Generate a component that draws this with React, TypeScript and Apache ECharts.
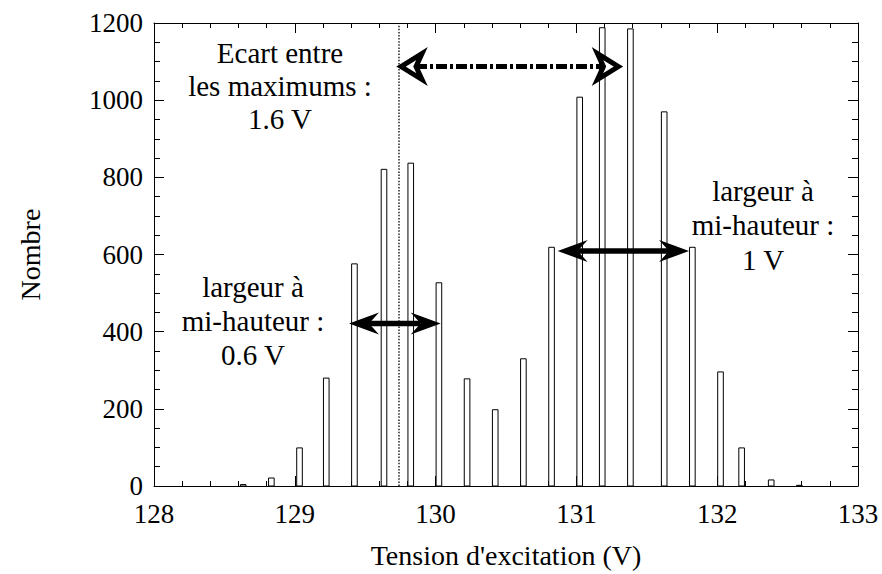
import React, { useEffect, useRef } from "react";
import * as echarts from "echarts";

// Histogram: bin left edges (V) and counts
const BIN_LEFT = [128.61, 128.81, 129.01, 129.2, 129.4, 129.61, 129.8, 130.0, 130.2, 130.4, 130.6, 130.8, 131.0, 131.16, 131.36, 131.6, 131.8, 132.0, 132.15, 132.36, 132.56];
const COUNTS = [5, 22, 100, 281, 577, 822, 838, 528, 279, 199, 331, 620, 1009, 1189, 1186, 971, 620, 297, 100, 17, 3];
const BIN_WIDTH = 0.047;

// Vertical dotted marker (V)
const MARKER_X = [129.74];
// Arrows: [x start, x end, y]
const GAP_ARROW = [[129.733, 131.32, 1087]];
const WIDTH_ARROWS = [
  [129.385, 130.036, 421],
  [130.867, 131.8, 609],
];

const X_MIN = 128;
const X_MAX = 133;
const Y_MIN = 0;
const Y_MAX = 1200;

const LABEL_GAP = ["Ecart entre", "les maximums :", "1.6 V"];
const LABEL_LEFT = ["largeur à", "mi-hauteur :", "0.6 V"];
const LABEL_RIGHT = ["largeur à", "mi-hauteur :", "1 V"];

const FONT = "Liberation Serif";

export default function App() {
  const ref = useRef<HTMLDivElement>(null);
  useEffect(() => {
    if (!ref.current) return;
    const chart = echarts.init(ref.current, null, { renderer: "svg" });

    const axisCommon = {
      type: "value",
      min: X_MIN,
      max: X_MAX,
      interval: 1,
      axisLine: { show: true, onZero: false, lineStyle: { color: "#000", width: 1 } },
      axisTick: { show: true, inside: true, length: 10, lineStyle: { color: "#000", width: 1 } },
      minorTick: { show: true, splitNumber: 5, length: 5, lineStyle: { color: "#000", width: 1 } },
      splitLine: { show: false },
      minorSplitLine: { show: false },
    };
    const yCommon = {
      type: "value",
      min: Y_MIN,
      max: Y_MAX,
      interval: 200,
      axisLine: { show: true, onZero: false, lineStyle: { color: "#000", width: 1 } },
      axisTick: { show: true, inside: true, length: 10, lineStyle: { color: "#000", width: 1 } },
      minorTick: { show: true, splitNumber: 4, length: 6, lineStyle: { color: "#000", width: 1 } },
      splitLine: { show: false },
      minorSplitLine: { show: false },
    };

    const barData = BIN_LEFT.map((x, i) => [x, COUNTS[i]]);
    const textBase = { fill: "#000", fontSize: 29, fontFamily: FONT, align: "center", verticalAlign: "middle" };

    const option = {
      animation: false,
      backgroundColor: "#fff",
      textStyle: { fontFamily: FONT },
      grid: { left: 154, right: 24, top: 23, bottom: 83, containLabel: false },
      xAxis: [
        {
          ...axisCommon,
          position: "bottom",
          axisLabel: {
            show: true,
            color: "#000",
            fontSize: 27,
            fontFamily: FONT,
            margin: 18,
            lineHeight: 20,
            formatter: (v: number) => String(v),
          },
          name: "Tension d'excitation (V)",
          nameLocation: "middle",
          nameGap: 55,
          nameTextStyle: { color: "#000", fontSize: 28, fontFamily: FONT },
        },
        {
          ...axisCommon,
          position: "top",
          axisLabel: { show: false },
        },
      ],
      yAxis: [
        {
          ...yCommon,
          position: "left",
          axisLabel: {
            show: true,
            color: "#000",
            fontSize: 27,
            fontFamily: FONT,
            margin: 11,
            lineHeight: 20,
            padding: [0, 0, 10, 0],
            formatter: (v: number) => String(v),
          },
          name: "Nombre",
          nameLocation: "middle",
          nameRotate: 90,
          nameGap: 110,
          nameTextStyle: { color: "#000", fontSize: 28, fontFamily: FONT },
        },
        {
          ...yCommon,
          position: "right",
          axisLabel: { show: false },
        },
      ],
      series: [
        {
          type: "custom",
          name: "bars",
          xAxisIndex: 0,
          yAxisIndex: 0,
          data: barData,
          encode: { x: 0, y: 1 },
          z: 2,
          renderItem: (params: any, api: any) => {
            const x = api.value(0);
            const h = api.value(1);
            const p0 = api.coord([x, 0]);
            const p1 = api.coord([x + BIN_WIDTH, h]);
            return {
              type: "rect",
              shape: {
                x: p0[0] + 0.5,
                y: p1[1] + 0.5,
                width: p1[0] - p0[0] - 1,
                height: p0[1] - p1[1] - 0.5,
              },
              style: { fill: "#fff", stroke: "#000", lineWidth: 1 },
            };
          },
        },
        {
          type: "custom",
          name: "marker",
          data: MARKER_X.map((x) => [x, Y_MIN, Y_MAX]),
          encode: { x: 0, y: [1, 2] },
          z: 3,
          renderItem: (params: any, api: any) => {
            const a = api.coord([api.value(0), api.value(1)]);
            const b = api.coord([api.value(0), api.value(2)]);
            return {
              type: "line",
              shape: { x1: a[0], y1: a[1], x2: b[0], y2: b[1] },
              style: { stroke: "#000", lineWidth: 1.3, lineDash: [1.5, 1.6] },
            };
          },
        },
        {
          type: "custom",
          name: "gapArrow",
          data: GAP_ARROW,
          encode: { x: [0, 1], y: 2 },
          z: 4,
          renderItem: (params: any, api: any) => {
            const a = api.coord([api.value(0), api.value(2)]);
            const b = api.coord([api.value(1), api.value(2)]);
            const y = a[1];
            const L = 21;
            const H = 26;
            const N = 15;
            const off = 3;
            const ax = a[0] + off;
            const bx = b[0] - off;
            const headStyle = { fill: "#fff", stroke: "#000", lineWidth: 5, lineJoin: "miter" };
            return {
              type: "group",
              children: [
                {
                  type: "line",
                  shape: { x1: ax + N, y1: y, x2: bx - N, y2: y },
                  style: { stroke: "#000", lineWidth: 5, lineDash: [11, 3, 3, 3] },
                },
                {
                  type: "polygon",
                  shape: { points: [[ax, y], [ax + L, y - H / 2], [ax + N, y], [ax + L, y + H / 2]] },
                  style: headStyle,
                },
                {
                  type: "polygon",
                  shape: { points: [[bx, y], [bx - L, y - H / 2], [bx - N, y], [bx - L, y + H / 2]] },
                  style: headStyle,
                },
              ],
            };
          },
        },
        {
          type: "custom",
          name: "widthArrows",
          data: WIDTH_ARROWS,
          encode: { x: [0, 1], y: 2 },
          z: 4,
          renderItem: (params: any, api: any) => {
            const a = api.coord([api.value(0), api.value(2)]);
            const b = api.coord([api.value(1), api.value(2)]);
            const y = a[1];
            const L = 30;
            const H = 22;
            const N = 20;
            return {
              type: "group",
              children: [
                {
                  type: "line",
                  shape: { x1: a[0] + N, y1: y, x2: b[0] - N, y2: y },
                  style: { stroke: "#000", lineWidth: 5.5 },
                },
                {
                  type: "polygon",
                  shape: { points: [[a[0], y], [a[0] + L, y - H / 2], [a[0] + N, y], [a[0] + L, y + H / 2]] },
                  style: { fill: "#000" },
                },
                {
                  type: "polygon",
                  shape: { points: [[b[0], y], [b[0] - L, y - H / 2], [b[0] - N, y], [b[0] - L, y + H / 2]] },
                  style: { fill: "#000" },
                },
              ],
            };
          },
        },
      ],
      graphic: [
        {
          type: "text",
          x: 280,
          y: 86,
          z: 10,
          style: { ...textBase, text: LABEL_GAP.join("\n"), lineHeight: 33 },
        },
        {
          type: "text",
          x: 253,
          y: 321,
          z: 10,
          style: { ...textBase, text: LABEL_LEFT.join("\n"), lineHeight: 34 },
        },
        {
          type: "text",
          x: 763,
          y: 225,
          z: 10,
          style: { ...textBase, text: LABEL_RIGHT.join("\n"), lineHeight: 34.5 },
        },
      ],
    };

    chart.setOption(option as any);
    return () => {
      chart.dispose();
    };
  }, []);

  return (
    <div
      ref={ref}
      style={{ position: "fixed", left: 0, top: 0, width: 882, height: 574, background: "#fff" }}
    />
  );
}
